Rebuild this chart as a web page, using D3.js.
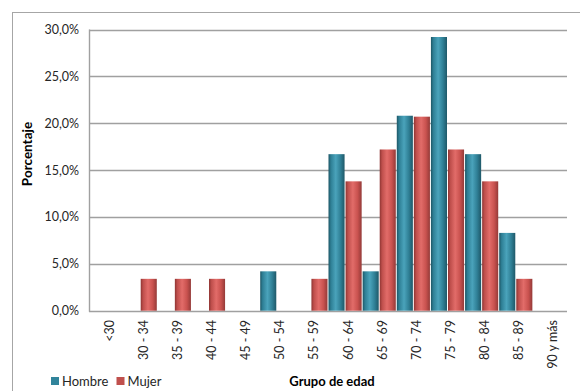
<!DOCTYPE html>
<html>
<head>
<meta charset="utf-8">
<script src="https://cdn.jsdelivr.net/npm/d3@7"></script>
<style>
  html, body { margin: 0; padding: 0; background: #fff; }
  svg { display: block; font-family: Lato, "Open Sans", sans-serif; }
</style>
</head>
<body>
<svg id="chart" width="580" height="391"></svg>
<script>
// Age groups and the percentage of each sex in every group
const categories = ["<30", "30 - 34", "35 - 39", "40 - 44", "45 - 49", "50 - 54", "55 - 59",
  "60 - 64", "65 - 69", "70 - 74", "75 - 79", "80 - 84", "85 - 89", "90 y más"];
const hombre = [0, 0, 0, 0, 0, 4.2, 0, 16.7, 4.2, 20.8, 29.2, 16.7, 8.3, 0];
const mujer  = [0, 3.4, 3.4, 3.4, 0, 0, 3.4, 13.8, 17.2, 20.7, 17.2, 13.8, 3.4, 0];
const seriesNames = ["Hombre", "Mujer"];
const yTicks = [0, 5, 10, 15, 20, 25, 30];

const svg = d3.select("#chart");
const margin = { left: 89, right: 13, top: 29.5, bottom: 80.3 };
const W = 580, H = 391;

// Outer chart frame
svg.append("rect")
  .attr("x", 12.5).attr("y", 12.5)
  .attr("width", 600).attr("height", 420)
  .attr("fill", "#fff").attr("stroke", "#a6a6a6").attr("stroke-width", 1);

const x = d3.scaleBand().domain(categories)
  .range([margin.left, W - margin.right]).paddingInner(0).paddingOuter(0);
const xs = d3.scaleBand().domain(seriesNames).range([0, x.bandwidth()]).padding(0);
const y = d3.scaleLinear().domain([0, 30]).range([H - margin.bottom, margin.top]);

// Cylinder-like shading for the bars
const defs = svg.append("defs");
function grad(id, stops) {
  const g = defs.append("linearGradient").attr("id", id)
    .attr("x1", "0%").attr("x2", "100%").attr("y1", "0%").attr("y2", "0%");
  stops.forEach(([o, c]) => g.append("stop").attr("offset", o).attr("stop-color", c));
}
grad("gH", [["0%", "#1d5665"], ["15%", "#2e7f95"], ["45%", "#4aa3bb"], ["75%", "#2f7f95"], ["100%", "#1f5868"]]);
grad("gM", [["0%", "#8e3533"], ["15%", "#bf4f4c"], ["45%", "#e26c69"], ["75%", "#c9524f"], ["100%", "#943a38"]]);
const fills = { Hombre: "url(#gH)", Mujer: "url(#gM)" };
const legendColors = { Hombre: "#31849b", Mujer: "#c0504d" };

// Horizontal gridlines
const grid = svg.append("g");
grid.selectAll("line").data(yTicks).join("line")
  .attr("x1", margin.left).attr("x2", W - margin.right)
  .attr("y1", d => Math.round(y(d)) + 0.5).attr("y2", d => Math.round(y(d)) + 0.5)
  .attr("stroke", "#a0a0a0").attr("stroke-width", 1.4);

// Y axis line
svg.append("line")
  .attr("x1", margin.left + 0.5).attr("x2", margin.left + 0.5)
  .attr("y1", y(30)).attr("y2", y(0) + 1)
  .attr("stroke", "#a0a0a0").attr("stroke-width", 1.4);

// Y axis labels
const fmt = d => d.toFixed(1).replace(".", ",") + "%";
const yAxis = d3.axisLeft(y).tickValues(yTicks).tickFormat(fmt).tickSize(0).tickPadding(10);
const ya = svg.append("g").attr("transform", `translate(${margin.left},0)`).call(yAxis);
ya.select(".domain").remove();
ya.selectAll("text").attr("font-size", 12.5).attr("fill", "#262626").style("font-family", "Lato, sans-serif");

// Bars
const rows = categories.map((c, i) => ({ cat: c, vals: [
  { s: "Hombre", v: hombre[i] }, { s: "Mujer", v: mujer[i] }] }));
const groups = svg.append("g").selectAll("g").data(rows).join("g")
  .attr("transform", d => `translate(${x(d.cat)},0)`);
groups.selectAll("rect").data(d => d.vals.filter(e => e.v > 0)).join("rect")
  .attr("x", d => xs(d.s) + 0.5)
  .attr("width", xs.bandwidth() - 1)
  .attr("y", d => y(d.v))
  .attr("height", d => y(0) - y(d.v))
  .attr("fill", d => fills[d.s]);

// X axis category labels (rotated)
const xa = svg.append("g");
xa.selectAll("text").data(categories).join("text")
  .attr("transform", d => `translate(${x(d) + x.bandwidth() / 2},320) rotate(-90)`)
  .attr("dy", "0.6em")
  .attr("text-anchor", "end")
  .attr("font-size", 12.5).attr("fill", "#262626")
  .text(d => d);

// Axis titles
svg.append("text")
  .attr("transform", "translate(32,154) rotate(-90)")
  .attr("text-anchor", "middle")
  .attr("font-size", 13.5).attr("font-weight", "bold").attr("fill", "#000")
  .text("Porcentaje");
svg.append("text")
  .attr("x", 332).attr("y", 386)
  .attr("text-anchor", "middle")
  .attr("font-size", 13).attr("font-weight", "bold").attr("fill", "#000")
  .text("Grupo de edad");

// Legend
const leg = svg.append("g").attr("transform", "translate(51,377)");
const legX = { Hombre: 0, Mujer: 65.5 };
seriesNames.forEach(s => {
  const g = leg.append("g").attr("transform", `translate(${legX[s]},0)`);
  g.append("rect").attr("width", 8).attr("height", 8).attr("fill", legendColors[s]);
  g.append("text").attr("x", 11).attr("y", 8.5)
    .attr("font-size", 13).attr("fill", "#262626").text(s);
});
</script>
</body>
</html>
